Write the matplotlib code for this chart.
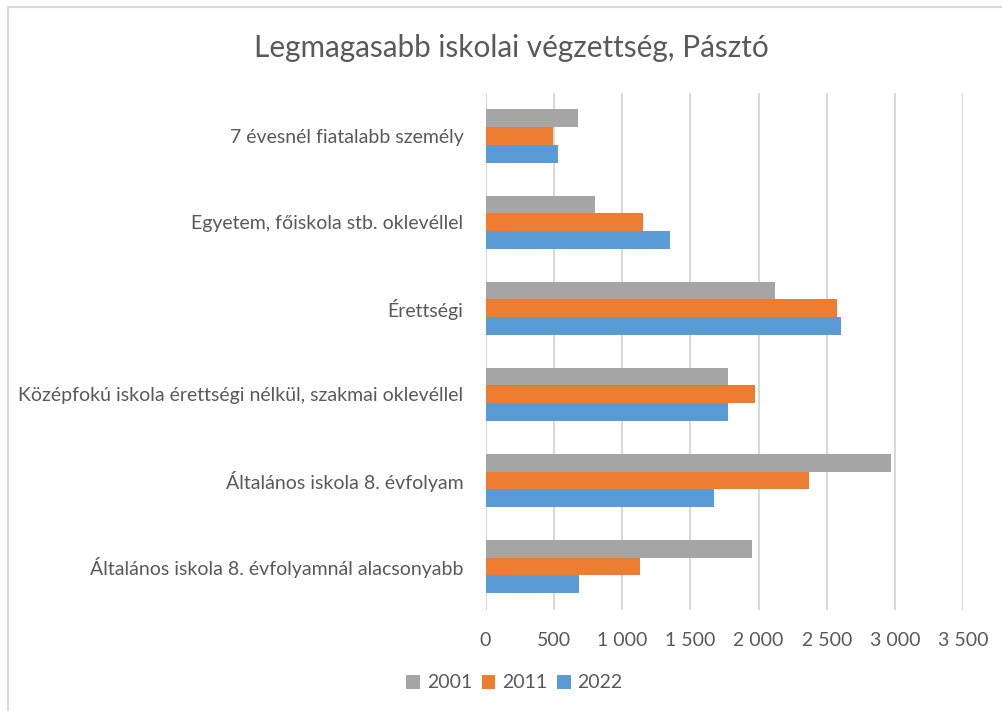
import matplotlib
matplotlib.use("Agg")
import matplotlib.pyplot as plt
import numpy as np
from matplotlib.ticker import FuncFormatter
from matplotlib.patches import Rectangle

plt.rcParams['font.family'] = ['Lato', 'DejaVu Sans']

title = "Legmagasabb iskolai végzettség, Pásztó"
categories = [
    "7 évesnél fiatalabb személy",
    "Egyetem, főiskola stb. oklevéllel",
    "Érettségi",
    "Középfokú iskola érettségi nélkül, szakmai oklevéllel",
    "Általános iskola 8. évfolyam",
    "Általános iskola 8. évfolyamnál alacsonyabb",
]
series_names = ["2001", "2011", "2022"]
values_2001 = [676, 800, 2117, 1780, 2968, 1954]
values_2011 = [498, 1151, 2576, 1971, 2371, 1134]
values_2022 = [529, 1349, 2607, 1780, 1676, 685]
x_ticks = [0, 500, 1000, 1500, 2000, 2500, 3000, 3500]

colors = ["#A5A5A5", "#ED7D31", "#5B9BD5"]
text_color = "#595959"
grid_color = "#D9D9D9"

fig = plt.figure(figsize=(10.02, 7.11), dpi=100)
fig.patch.set_facecolor("white")

# chart-area border (top and left visible in the crop)
fig.add_artist(Rectangle((7.5 / 1002, -0.1), 1.2, 1 - 6.5 / 711 + 0.1,
                         transform=fig.transFigure, fill=False,
                         edgecolor="#D9D9D9", linewidth=1.5))

ax = fig.add_axes([485.5 / 1002, 101.5 / 711, (963.3 - 485.5) / 1002, (609.5 - 93) / 711])

y = np.arange(len(categories))
h = 0.206
all_vals = [values_2001, values_2011, values_2022]
offsets = [-h, 0, h]
handles = []
for vals, off, c, name in zip(all_vals, offsets, colors, series_names):
    b = ax.barh(y + off, vals, height=h, color=c, label=name, zorder=3)
    handles.append(b)

ax.set_ylim(len(categories) - 0.5, -0.5)
ax.set_xlim(0, 3500)
ax.set_xticks(x_ticks)
ax.xaxis.set_major_formatter(FuncFormatter(lambda v, p: f"{int(v):,}".replace(",", " ")))
ax.set_yticks(y)
ax.set_yticklabels(categories)

for s in ["top", "right", "bottom", "left"]:
    ax.spines[s].set_visible(False)
ax.grid(axis="x", color=grid_color, linewidth=1.5, zorder=0)
ax.grid(axis="y", visible=False)
ax.tick_params(axis="both", length=0, colors=text_color, labelsize=14)
ax.tick_params(axis="x", pad=16)
ax.tick_params(axis="y", pad=16)
ax.set_facecolor("white")

fig.text(0.510, 1 - 48 / 711, title, ha="center", va="center",
         fontsize=21.4, color=text_color)

leg = fig.legend(handles=handles, labels=series_names, loc="center",
                 bbox_to_anchor=(514.5 / 1002, 1 - 683 / 711), ncol=3,
                 frameon=False, fontsize=14, handlelength=0.7, handleheight=0.7,
                 handletextpad=0.35, columnspacing=0.5, labelcolor=text_color)

fig.savefig("out.png", dpi=100, facecolor="white")
